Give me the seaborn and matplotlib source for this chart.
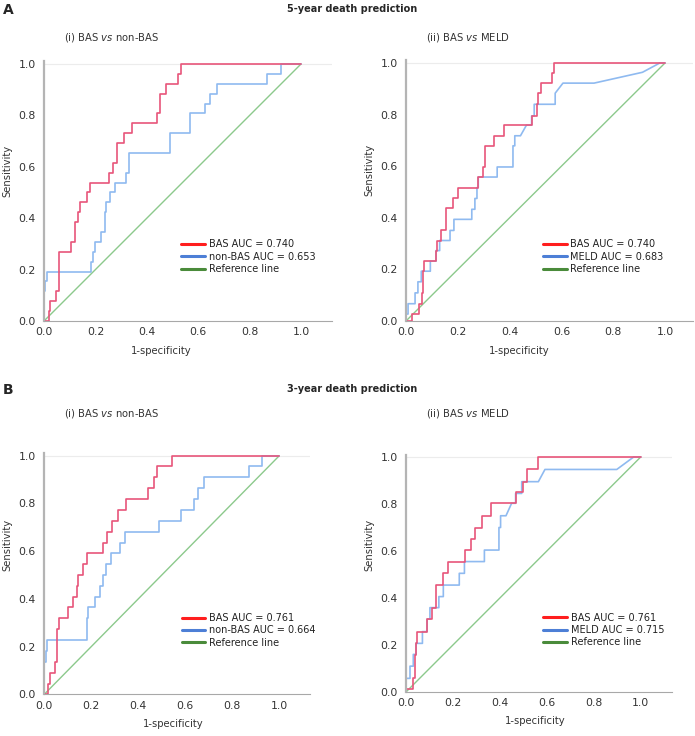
import matplotlib
matplotlib.use("Agg")
import matplotlib.pyplot as plt
import seaborn as sns
from matplotlib.lines import Line2D

# ---- data (ROC vertices, fpr / tpr) ----
# A (i) 5-year, BAS vs non-BAS
a1_bas_fpr = [0, 0.019, 0.019, 0.024, 0.024, 0.045, 0.045, 0.06, 0.06, 0.104, 0.104, 0.12, 0.12, 0.132, 0.132,
              0.139, 0.139, 0.167, 0.167, 0.178, 0.178, 0.252, 0.252, 0.27, 0.27, 0.284, 0.284, 0.31, 0.31,
              0.344, 0.344, 0.44, 0.44, 0.45, 0.45, 0.474, 0.474, 0.522, 0.522, 0.532, 0.532, 1.0]
a1_bas_tpr = [0, 0, 0.038, 0.038, 0.077, 0.077, 0.115, 0.115, 0.269, 0.269, 0.308, 0.308, 0.385, 0.385, 0.423,
              0.423, 0.462, 0.462, 0.5, 0.5, 0.538, 0.538, 0.577, 0.577, 0.615, 0.615, 0.692, 0.692, 0.731,
              0.731, 0.769, 0.769, 0.808, 0.808, 0.885, 0.885, 0.923, 0.923, 0.962, 0.962, 1.0, 1.0]
a1_oth_fpr = [0, 0, 0.005, 0.005, 0.013, 0.013, 0.184, 0.184, 0.19, 0.19, 0.197, 0.197, 0.22, 0.22, 0.236, 0.236,
              0.243, 0.243, 0.256, 0.256, 0.275, 0.275, 0.318, 0.318, 0.33, 0.33, 0.49, 0.49, 0.567, 0.567,
              0.628, 0.628, 0.645, 0.645, 0.674, 0.674, 0.866, 0.866, 0.921, 0.921, 1.0]
a1_oth_tpr = [0, 0.115, 0.115, 0.154, 0.154, 0.192, 0.192, 0.231, 0.231, 0.269, 0.269, 0.308, 0.308, 0.346, 0.346,
              0.423, 0.423, 0.462, 0.462, 0.5, 0.5, 0.538, 0.538, 0.577, 0.577, 0.654, 0.654, 0.731, 0.731, 0.808,
              0.808, 0.846, 0.846, 0.885, 0.885, 0.923, 0.923, 0.962, 0.962, 1.0, 1.0]

# A (ii) 5-year, BAS vs MELD
a2_bas_fpr = [0, 0.022, 0.022, 0.051, 0.051, 0.061, 0.061, 0.065, 0.065, 0.07, 0.07, 0.116, 0.116, 0.12, 0.12,
              0.134, 0.134, 0.153, 0.153, 0.181, 0.181, 0.2, 0.2, 0.279, 0.279, 0.297, 0.297, 0.306, 0.306,
              0.338, 0.338, 0.377, 0.377, 0.485, 0.485, 0.505, 0.505, 0.511, 0.511, 0.521, 0.521, 0.563, 0.563,
              0.571, 0.571, 1.0]
a2_bas_tpr = [0, 0, 0.027, 0.027, 0.067, 0.067, 0.109, 0.109, 0.193, 0.193, 0.234, 0.234, 0.273, 0.273, 0.312,
              0.312, 0.351, 0.351, 0.437, 0.437, 0.475, 0.475, 0.517, 0.517, 0.558, 0.558, 0.597, 0.597, 0.679,
              0.679, 0.718, 0.718, 0.759, 0.759, 0.795, 0.795, 0.84, 0.84, 0.883, 0.883, 0.922, 0.922, 0.961,
              0.961, 1.0, 1.0]
a2_oth_fpr = [0, 0, 0.008, 0.008, 0.035, 0.035, 0.046, 0.046, 0.059, 0.059, 0.094, 0.094, 0.116, 0.116, 0.13, 0.13,
              0.17, 0.17, 0.185, 0.185, 0.254, 0.254, 0.266, 0.266, 0.274, 0.274, 0.279, 0.279, 0.352, 0.352,
              0.413, 0.413, 0.42, 0.42, 0.442, 0.465, 0.485, 0.485, 0.495, 0.495, 0.576, 0.576, 0.606, 0.726,
              0.913, 0.98, 1.0]
a2_oth_tpr = [0, 0.027, 0.027, 0.067, 0.067, 0.109, 0.109, 0.152, 0.152, 0.193, 0.193, 0.232, 0.232, 0.273, 0.273,
              0.312, 0.312, 0.351, 0.351, 0.394, 0.394, 0.433, 0.433, 0.475, 0.475, 0.517, 0.517, 0.558, 0.558,
              0.597, 0.597, 0.679, 0.679, 0.718, 0.718, 0.759, 0.759, 0.795, 0.795, 0.84, 0.84, 0.883, 0.922,
              0.922, 0.964, 1.0, 1.0]

# B (i) 3-year, BAS vs non-BAS
b1_bas_fpr = [0, 0.017, 0.017, 0.024, 0.024, 0.045, 0.045, 0.055, 0.055, 0.063, 0.063, 0.102, 0.102, 0.123, 0.123,
              0.138, 0.138, 0.145, 0.145, 0.166, 0.166, 0.183, 0.183, 0.248, 0.248, 0.268, 0.268, 0.289, 0.289,
              0.315, 0.315, 0.348, 0.348, 0.443, 0.443, 0.467, 0.467, 0.48, 0.48, 0.542, 0.542, 1.0]
b1_bas_tpr = [0, 0, 0.045, 0.045, 0.091, 0.091, 0.136, 0.136, 0.273, 0.273, 0.318, 0.318, 0.364, 0.364, 0.409,
              0.409, 0.455, 0.455, 0.5, 0.5, 0.545, 0.545, 0.591, 0.591, 0.636, 0.636, 0.682, 0.682, 0.727,
              0.727, 0.773, 0.773, 0.818, 0.818, 0.864, 0.864, 0.909, 0.909, 0.955, 0.955, 1.0, 1.0]
b1_oth_fpr = [0, 0, 0.006, 0.006, 0.013, 0.013, 0.18, 0.18, 0.187, 0.187, 0.216, 0.216, 0.238, 0.238, 0.248, 0.248,
              0.262, 0.262, 0.285, 0.285, 0.322, 0.322, 0.343, 0.343, 0.49, 0.49, 0.58, 0.58, 0.637, 0.637,
              0.655, 0.655, 0.679, 0.679, 0.872, 0.872, 0.925, 0.925, 1.0]
b1_oth_tpr = [0, 0.136, 0.136, 0.182, 0.182, 0.227, 0.227, 0.318, 0.318, 0.364, 0.364, 0.409, 0.409, 0.455, 0.455,
              0.5, 0.5, 0.545, 0.545, 0.591, 0.591, 0.636, 0.636, 0.682, 0.682, 0.727, 0.727, 0.773, 0.773,
              0.818, 0.818, 0.864, 0.864, 0.909, 0.909, 0.955, 0.955, 1.0, 1.0]

# B (ii) 3-year, BAS vs MELD
b2_bas_fpr = [0, 0.028, 0.028, 0.038, 0.038, 0.043, 0.043, 0.045, 0.045, 0.088, 0.088, 0.109, 0.109, 0.128, 0.128,
              0.159, 0.159, 0.18, 0.18, 0.251, 0.251, 0.276, 0.276, 0.294, 0.294, 0.322, 0.322, 0.361, 0.361,
              0.467, 0.467, 0.497, 0.497, 0.514, 0.514, 0.561, 0.561, 1.0]
b2_bas_tpr = [0.011, 0.011, 0.061, 0.061, 0.157, 0.157, 0.207, 0.207, 0.257, 0.257, 0.31, 0.31, 0.359, 0.359,
              0.455, 0.455, 0.505, 0.505, 0.555, 0.555, 0.604, 0.604, 0.651, 0.651, 0.70, 0.70, 0.75, 0.75,
              0.803, 0.803, 0.85, 0.85, 0.895, 0.895, 0.947, 0.947, 1.0, 1.0]
b2_oth_fpr = [0, 0, 0.017, 0.017, 0.031, 0.031, 0.043, 0.043, 0.07, 0.07, 0.09, 0.09, 0.102, 0.102, 0.14, 0.14,
              0.159, 0.159, 0.227, 0.227, 0.249, 0.249, 0.334, 0.334, 0.396, 0.396, 0.403, 0.403, 0.426, 0.45,
              0.467, 0.467, 0.493, 0.493, 0.564, 0.592, 0.898, 0.97, 1.0]
b2_oth_tpr = [0, 0.058, 0.058, 0.11, 0.11, 0.16, 0.16, 0.207, 0.207, 0.257, 0.257, 0.31, 0.31, 0.359, 0.359,
              0.406, 0.406, 0.455, 0.455, 0.505, 0.505, 0.555, 0.555, 0.604, 0.604, 0.70, 0.70, 0.75, 0.75,
              0.803, 0.803, 0.845, 0.845, 0.895, 0.895, 0.947, 0.947, 1.0, 1.0]

ref_line = [0, 1]
ticks = [0.0, 0.2, 0.4, 0.6, 0.8, 1.0]

section_titles = ["5-year death prediction", "3-year death prediction"]
section_letters = ["A", "B"]
subtitles = ["(i) BAS $\\it{vs}$ non-BAS", "(ii) BAS $\\it{vs}$ MELD"]
legend_labels = [
    ["BAS AUC = 0.740", "non-BAS AUC = 0.653", "Reference line"],
    ["BAS AUC = 0.740", "MELD AUC = 0.683", "Reference line"],
    ["BAS AUC = 0.761", "non-BAS AUC = 0.664", "Reference line"],
    ["BAS AUC = 0.761", "MELD AUC = 0.715", "Reference line"],
]

# ---- styling ----
sns.set_theme(style="white")
plt.rcParams["font.family"] = ["DejaVu Sans"]
plt.rcParams["mathtext.fontset"] = "dejavusans"

LINE_RED, LINE_BLUE, LINE_GREEN = "#e8557a", "#8fbaf0", "#8cc98c"
LEG_RED, LEG_BLUE, LEG_GREEN = "#ff1e1e", "#4d7fd6", "#4a8b3b"

W, H = 695, 736
fig = plt.figure(figsize=(W / 100, H / 100), dpi=100)

# panel geometry in pixels: origin x/y, px per unit x/y, x max, legend anchor, xlabel frac, ylabel frac
panels = [
    dict(ox=44, oy=321, ux=257, uy=257, xmax=1.12, leg=(0.535, 0.25), xl=0.406, yl=0.58),
    dict(ox=406, oy=321, ux=259, uy=258, xmax=1.108, leg=(0.53, 0.25), xl=0.394, yl=0.58),
    dict(ox=44.3, oy=694.3, ux=235, uy=238.6, xmax=1.13, leg=(0.585, 0.268), xl=0.485, yl=0.62),
    dict(ox=406, oy=692, ux=234.7, uy=235, xmax=1.133, leg=(0.585, 0.264), xl=0.485, yl=0.62),
]
curves = [
    (a1_bas_fpr, a1_bas_tpr, a1_oth_fpr, a1_oth_tpr),
    (a2_bas_fpr, a2_bas_tpr, a2_oth_fpr, a2_oth_tpr),
    (b1_bas_fpr, b1_bas_tpr, b1_oth_fpr, b1_oth_tpr),
    (b2_bas_fpr, b2_bas_tpr, b2_oth_fpr, b2_oth_tpr),
]

for i, (p, (bf, bt, of, ot)) in enumerate(zip(panels, curves)):
    wpx = p["xmax"] * p["ux"]
    hpx = 1.01 * p["uy"]
    ax = fig.add_axes([p["ox"] / W, (H - p["oy"]) / H, wpx / W, hpx / H])
    ax.axhline(1.0, color="#ececec", lw=0.8, zorder=0)
    sns.lineplot(x=ref_line, y=ref_line, color=LINE_GREEN, lw=1.0, ax=ax, estimator=None, sort=False)
    sns.lineplot(x=of, y=ot, color=LINE_BLUE, lw=1.2, ax=ax, estimator=None, sort=False)
    sns.lineplot(x=bf, y=bt, color=LINE_RED, lw=1.2, ax=ax, estimator=None, sort=False)
    ax.set_xlim(0, p["xmax"])
    ax.set_ylim(0, 1.01)
    ax.set_xticks(ticks)
    ax.set_yticks(ticks)
    ax.set_xticklabels([f"{t:.1f}" for t in ticks])
    ax.set_yticklabels([f"{t:.1f}" for t in ticks])
    ax.tick_params(length=0, labelsize=7.8, colors="#333333")
    ax.tick_params(axis="x", pad=4.5)
    ax.tick_params(axis="y", pad=6)
    for s in ["top", "right"]:
        ax.spines[s].set_visible(False)
    ax.spines["left"].set_color("#b4b4b4")
    ax.spines["left"].set_linewidth(1.6)
    ax.spines["bottom"].set_color("#a8a8a8")
    ax.spines["bottom"].set_linewidth(0.8)

    ax.set_xlabel("1-specificity", fontsize=7.2, color="#333333")
    ax.set_ylabel("Sensitivity", fontsize=7.2, color="#333333")
    ax.xaxis.set_label_coords(p["xl"], -24.5 / hpx)
    ax.yaxis.set_label_coords(-31.5 / wpx, p["yl"])

    handles = [Line2D([], [], color=c, lw=2.2) for c in (LEG_RED, LEG_BLUE, LEG_GREEN)]
    ax.legend(handles, legend_labels[i], loc="center left", bbox_to_anchor=p["leg"],
              bbox_transform=ax.transData, frameon=False, fontsize=7, handlelength=2.4,
              handletextpad=0.4, labelspacing=0.25, borderpad=0, borderaxespad=0, labelcolor="#222222")

# section headings and sub-titles
fig.text(352 / W, 1 - 9 / H, section_titles[0], ha="center", va="center", fontsize=7, fontweight="bold")
fig.text(352 / W, 1 - 389 / H, section_titles[1], ha="center", va="center", fontsize=7, fontweight="bold")
fig.text(3 / W, 1 - 10 / H, section_letters[0], ha="left", va="center", fontsize=10, fontweight="bold")
fig.text(3 / W, 1 - 390 / H, section_letters[1], ha="left", va="center", fontsize=10, fontweight="bold")
for y in (38, 413):
    fig.text(111.5 / W, 1 - y / H, subtitles[0], ha="center", va="center", fontsize=7.2, color="#333333")
    fig.text(468 / W, 1 - y / H, subtitles[1], ha="center", va="center", fontsize=7.2, color="#333333")

fig.savefig("out.png", dpi=100)
